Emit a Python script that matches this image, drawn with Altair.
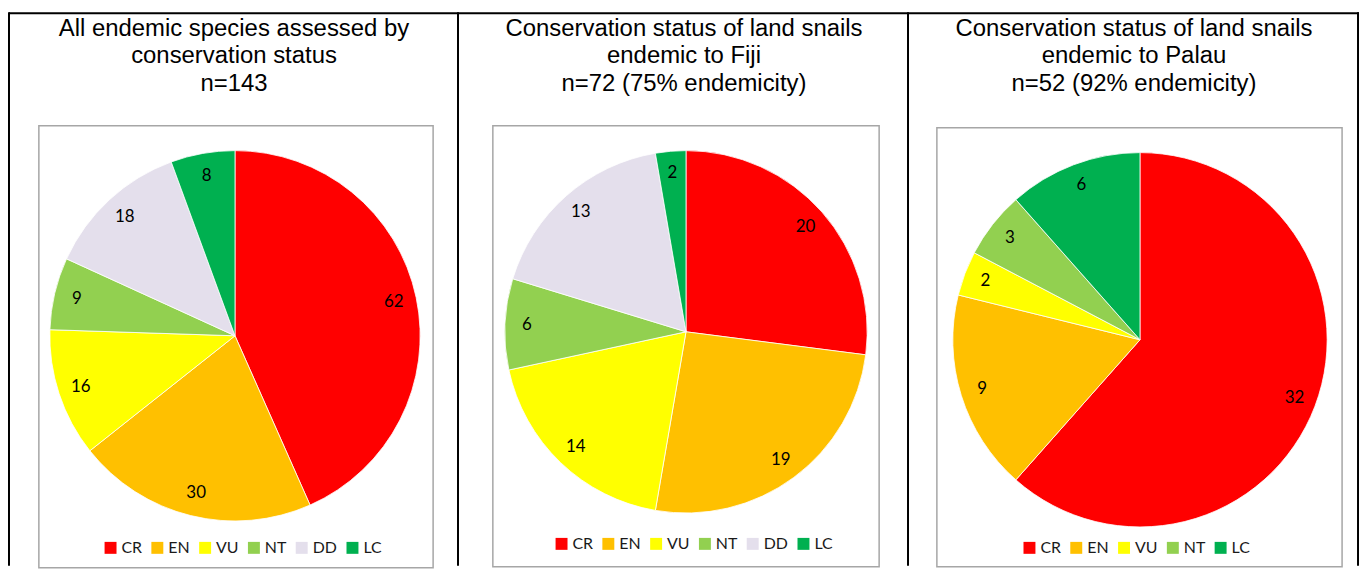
import altair as alt
import pandas as pd

# ---- data ----
status_all = ["CR", "EN", "VU", "NT", "DD", "LC"]
status_colors = ["#FF0000", "#FFC000", "#FFFF00", "#92D050", "#E4DFEC", "#00B050"]

p1_status = ["CR", "EN", "VU", "NT", "DD", "LC"]
p1_counts = [62, 30, 16, 9, 18, 8]
p1_title = ["All endemic species assessed by", "conservation  status", "n=143"]

p2_status = ["CR", "EN", "VU", "NT", "DD", "LC"]
p2_counts = [20, 19, 14, 6, 13, 2]
p2_title = ["Conservation status of land snails", "endemic to Fiji", "n=72 (75% endemicity)"]

p3_status = ["CR", "EN", "VU", "NT", "LC"]
p3_counts = [32, 9, 2, 3, 6]
p3_title = ["Conservation status of land snails", "endemic to Palau", "n=52 (92% endemicity)"]

W = 452
H = 559
color_of = dict(zip(status_all, status_colors))


def panel(cats, vals, title, cx, cy, r, lr, box, leg, left_rule):
    df = pd.DataFrame({"status": cats, "count": vals, "ord": list(range(len(cats)))})
    dummy = pd.DataFrame({"d": [0]})

    base = alt.Chart(df).encode(
        theta=alt.Theta("count:Q", stack=True),
        order=alt.Order("ord:Q", sort="ascending"),
    )
    pie = base.mark_arc(radius=r, stroke="white", strokeWidth=0.8).encode(
        x=alt.value(cx),
        y=alt.value(cy),
        color=alt.Color(
            "status:N",
            sort=cats,
            scale=alt.Scale(domain=cats, range=[color_of[c] for c in cats]),
            legend=alt.Legend(
                title=None,
                orient="none",
                legendX=leg[0],
                legendY=leg[1],
                direction="horizontal",
                symbolType="square",
                symbolSize=144,
                symbolStrokeWidth=0,
                labelFont="Lato",
                labelFontSize=16,
                labelColor="#1a1a1a",
                labelOffset=3,
                columnPadding=7,
            ),
        ),
    )
    labels = base.mark_text(radius=lr, font="Lato", fontSize=17, color="black").encode(
        x=alt.value(cx),
        y=alt.value(cy),
        text="count:Q",
    )
    ttl = alt.Chart(dummy).mark_text(
        font="Liberation Sans", fontSize=24, lineHeight=27.5, baseline="alphabetic",
        align="center", color="black"
    ).encode(x=alt.value(226), y=alt.value(27), text=alt.value(title))

    frame = alt.Chart(dummy).mark_rect(fillOpacity=0, stroke="#A6A6A6", strokeWidth=1.5).encode(
        x=alt.value(box[0]), x2=alt.value(box[1]), y=alt.value(box[2]), y2=alt.value(box[3])
    )
    top_rule = alt.Chart(dummy).mark_rule(color="black", strokeWidth=2).encode(
        x=alt.value(0), x2=alt.value(W), y=alt.value(4)
    )
    right_rule = alt.Chart(dummy).mark_rule(color="black", strokeWidth=2).encode(
        x=alt.value(W - 1), y=alt.value(3), y2=alt.value(H)
    )
    layers = [frame, pie, labels, ttl, top_rule, right_rule]
    if left_rule:
        layers.append(
            alt.Chart(dummy).mark_rule(color="black", strokeWidth=2).encode(
                x=alt.value(0), y=alt.value(3), y2=alt.value(H)
            )
        )
    return alt.layer(*layers).properties(width=W, height=H)


c1 = panel(p1_status, p1_counts, p1_title, 227, 328, 186, 163, (30, 426, 117, 561), (94, 533), True)
c2 = panel(p2_status, p2_counts, p2_title, 228, 324, 182, 160, (34, 422, 117, 560), (95, 529), False)
c3 = panel(p3_status, p3_counts, p3_title, 232, 332, 188, 166, (28, 435, 119, 560), (113, 533), False)

chart = (
    alt.hconcat(c1, c2, c3, spacing=0)
    .resolve_scale(color="independent")
    .properties(padding=0, bounds="flush")
    .configure_view(stroke=None)
)

chart.save("out.html", embed_options={"renderer": "svg", "actions": False})
